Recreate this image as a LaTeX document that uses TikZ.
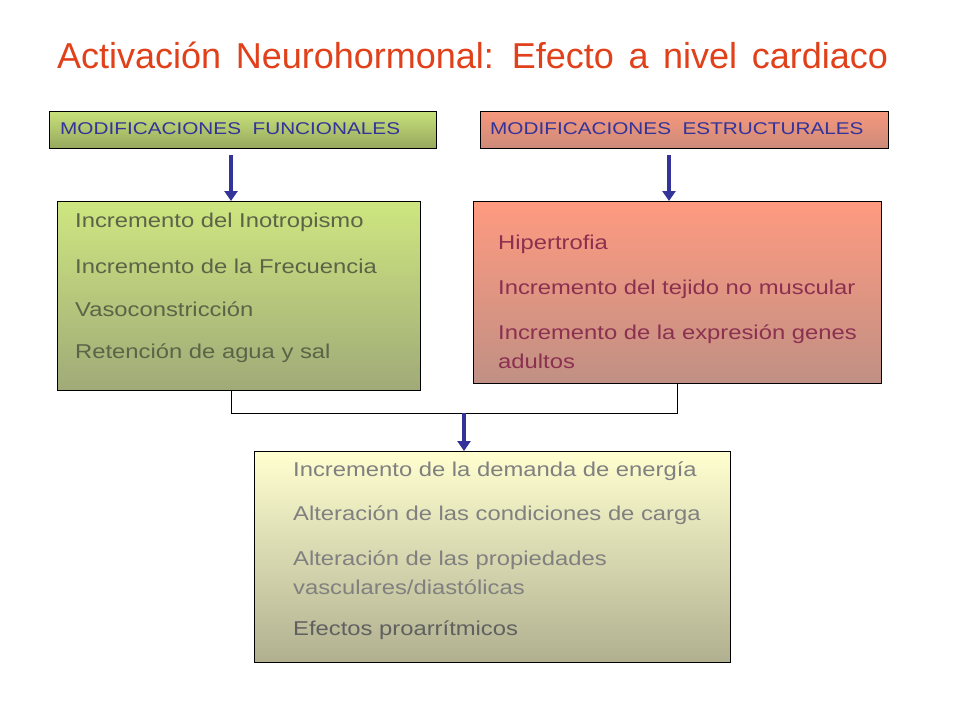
\documentclass[tikz,border=0pt]{standalone}
\usepackage{fontspec}
\setmainfont{Liberation Sans}
\newfontfamily\titlefont[WordSpace=1.46]{Liberation Sans}
\newfontfamily\hdrfont[FakeStretch=1.22,WordSpace=2]{Liberation Sans}
\newfontfamily\itemfont[FakeStretch=1.19]{Liberation Sans}
\usetikzlibrary{arrows.meta,shadings}
\definecolor{titlered}{HTML}{E0401A}
\definecolor{hdrblue}{HTML}{333399}
\definecolor{arrblue}{HTML}{333399}
\definecolor{greentxt}{HTML}{5C6448}
\definecolor{redtxt}{HTML}{8C3050}
\definecolor{graytxt}{HTML}{808080}
\tikzset{
  box/.style={draw=black, line width=0.8pt, inner sep=0pt, anchor=north west},
  hdrbox/.style={draw=black, line width=1pt, inner sep=0pt, anchor=north west},
  hdrtext/.style={anchor=west, inner sep=0pt, text=hdrblue, font=\hdrfont\fontsize{17}{20}\selectfont},
  itemtext/.style={anchor=west, inner sep=0pt, font=\itemfont\fontsize{20}{29}\selectfont, align=left},
  flow/.style={draw=arrblue, line width=4pt, -{Triangle[length=10pt,width=13pt]}},
  joinline/.style={draw=black, line width=0.8pt}
}
\begin{document}
\begin{tikzpicture}[x=1pt,y=-1pt]
\useasboundingbox (0,0) rectangle (960,720);
\node[anchor=base west, inner sep=0pt, text=titlered, font=\titlefont\fontsize{36}{42}\selectfont] (title) at (57,68) {Activación Neurohormonal: Efecto a nivel cardiaco};
% header boxes
\node[hdrbox, minimum width=387pt, minimum height=37pt, top color={rgb,255:red,200;green,224;blue,122}, bottom color={rgb,255:red,150;green,168;blue,94}] (hf) at (49,111) {};
\node[hdrbox, minimum width=408pt, minimum height=37pt, top color={rgb,255:red,246;green,152;blue,124}, bottom color={rgb,255:red,204;green,138;blue,122}] (he) at (480,111) {};
\node[hdrtext] (hft) at (60,129) {MODIFICACIONES FUNCIONALES};
\node[hdrtext] (het) at (490,129) {MODIFICACIONES ESTRUCTURALES};
% big boxes
\node[box, minimum width=363pt, minimum height=189pt, top color={rgb,255:red,206;green,230;blue,128}, bottom color={rgb,255:red,160;green,170;blue,120}] (bf) at (57,201) {};
\node[box, minimum width=408pt, minimum height=182pt, top color={rgb,255:red,255;green,154;blue,128}, bottom color={rgb,255:red,192;green,144;blue,132}] (be) at (473,201) {};
\node[box, minimum width=476pt, minimum height=211pt, top color={rgb,255:red,255;green,255;blue,208}, middle color={rgb,255:red,232;green,232;blue,176}, bottom color={rgb,255:red,176;green,176;blue,144}] (bc) at (254,451) {};
% left items
\node[itemtext, text=greentxt] (f1) at (75,222.5) {Incremento del Inotropismo};
\node[itemtext, text=greentxt] (f2) at (75,266.5) {Incremento de la Frecuencia};
\node[itemtext, text=greentxt] (f3) at (75,309.5) {Vasoconstricción};
\node[itemtext, text=greentxt] (f4) at (75,353.5) {Retención de agua y sal};
% right items
\node[itemtext, text=redtxt] (e1) at (498,244.5) {Hipertrofia};
\node[itemtext, text=redtxt] (e2) at (498,289.5) {Incremento del tejido no muscular};
\node[itemtext, text=redtxt] (e3) at (498,347) {Incremento de la expresión genes\\adultos};
% bottom items
\node[itemtext, text=graytxt] (c1) at (293,471.5) {Incremento de la demanda de energía};
\node[itemtext, text=graytxt] (c2) at (293,515.5) {Alteración de las condiciones de carga};
\node[itemtext, text=graytxt] (c3) at (293,572.5) {Alteración de las propiedades\\vasculares/diastólicas};
\node[itemtext, text=graytxt!75!black] (c4) at (293,630.5) {Efectos proarrítmicos};
% connectors
\coordinate (a1s) at (231,155);
\coordinate (a2s) at (669,155);
\coordinate (jl) at (231,413);
\coordinate (jr) at (677,413);
\coordinate (jm) at (464,413);
\draw[flow] (a1s) -- (a1s |- bf.north);
\draw[flow] (a2s) -- (a2s |- be.north);
\draw[joinline] (bf.south -| jl) -- (jl) -- (jr) -- (be.south -| jr);
\draw[flow] (jm) -- (jm |- bc.north);
\end{tikzpicture}
\end{document}
